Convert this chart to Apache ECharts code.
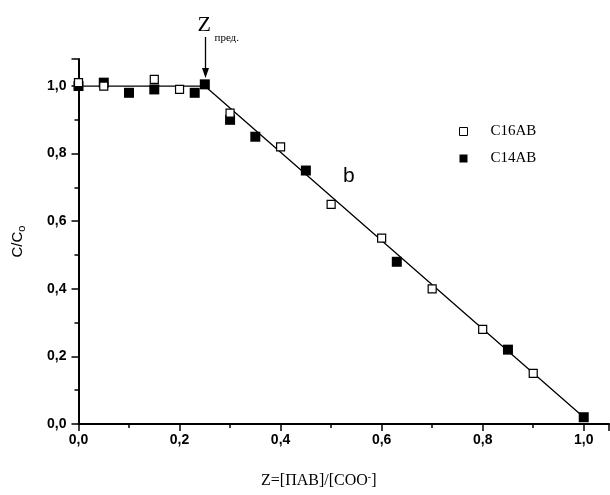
<!DOCTYPE html>
<html><head><meta charset="utf-8">
<script src="https://cdn.jsdelivr.net/npm/echarts@6/dist/echarts.min.js"></script>
<style>html,body{margin:0;padding:0;background:#fff}#c{width:610px;height:495px}</style>
</head><body><div id="c"></div>
<script>
// C16AB (open squares)
const c16x = [0, 0.05, 0.15, 0.2, 0.3, 0.4, 0.5, 0.6, 0.7, 0.8, 0.9];
const c16y = [1.01, 1.0, 1.02, 0.99, 0.92, 0.82, 0.65, 0.55, 0.40, 0.28, 0.15];
// C14AB (filled squares)
const c14x = [0, 0.05, 0.1, 0.15, 0.23, 0.25, 0.3, 0.35, 0.45, 0.63, 0.85, 1.0];
const c14y = [1.0, 1.01, 0.98, 0.99, 0.98, 1.005, 0.90, 0.85, 0.75, 0.48, 0.22, 0.02];
// fitted line
const fitX = [0, 0.25, 1.0];
const fitY = [1.0, 1.0, 0.02];
const zLimit = 0.25;

const pair = (xs, ys) => xs.map((x, i) => [x, ys[i]]);
const fmt = v => (Math.round(v * 10) / 10).toFixed(1).replace('.', ',');

const chart = echarts.init(document.getElementById('c'));
const axisCommon = {
  type: 'value', min: 0, interval: 0.2,
  splitLine: { show: false },
  axisLine: { show: true, onZero: false, lineStyle: { color: '#000', width: 2 } },
  axisTick: { show: true, inside: false, length: 7, lineStyle: { color: '#000', width: 1.5 } },
  minorTick: { show: true, splitNumber: 2, length: 4, lineStyle: { color: '#000', width: 1.5 } },
  axisLabel: { color: '#000', fontFamily: 'Liberation Sans', fontWeight: 'bold', fontSize: 14, formatter: fmt }
};
chart.setOption({
  animation: false,
  grid: { left: 78, top: 59, width: 531, height: 367 },
  xAxis: Object.assign({}, axisCommon, {
    max: 1.05,
    axisLabel: Object.assign({}, axisCommon.axisLabel, { margin: 9, showMaxLabel: false }),
    name: '{t|Z=[ПАВ]/[COO}{s|-}{t|]}',
    nameLocation: 'middle', nameGap: 48,
    nameTextStyle: {
      padding: [0, 50, 0, 0],
      rich: {
        t: { fontFamily: 'Liberation Serif', fontSize: 16, color: '#000', lineHeight: 18 },
        s: { fontFamily: 'Liberation Serif', fontSize: 10, color: '#000', verticalAlign: 'top', lineHeight: 18, padding: [0, 0, 8, 0] }
      }
    }
  }),
  yAxis: Object.assign({}, axisCommon, {
    max: 1.08,
    axisLabel: Object.assign({}, axisCommon.axisLabel, { margin: 12, showMaxLabel: false }),
    name: '{t|C/C}{s|o}',
    nameLocation: 'middle', nameGap: 52, nameRotate: 90,
    nameTextStyle: {
      rich: {
        t: { fontFamily: 'Liberation Sans', fontSize: 15, color: '#000', lineHeight: 18 },
        s: { fontFamily: 'Liberation Sans', fontSize: 11, color: '#000', lineHeight: 18, padding: [8, 0, 0, 0] }
      }
    }
  }),
  legend: {
    orient: 'vertical', left: 454, top: 119, itemGap: 12,
    itemWidth: 8, itemHeight: 8,
    textStyle: { fontFamily: 'Liberation Serif', fontSize: 15, color: '#000', padding: [0, 0, 0, 18] },
    data: [
      { name: 'C16AB', itemStyle: { color: '#fff', borderColor: '#000', borderWidth: 1 } },
      { name: 'C14AB', itemStyle: { color: '#000', borderWidth: 0 } }
    ]
  },
  series: [
    { type: 'line', name: 'fit', data: pair(fitX, fitY), symbol: 'none', lineStyle: { color: '#000', width: 1.3 }, z: 1 },
    { type: 'scatter', name: 'C14AB', data: pair(c14x, c14y), symbol: 'rect', symbolSize: 10,
      itemStyle: { color: '#000', borderColor: '#000', borderWidth: 0, opacity: 1 }, z: 2 },
    { type: 'scatter', name: 'C16AB', data: pair(c16x, c16y), symbol: 'rect', symbolSize: 8,
      itemStyle: { color: '#fff', borderColor: '#000', borderWidth: 1.2, opacity: 1 }, z: 3 }
  ]
});

const tip = chart.convertToPixel({ gridIndex: 0 }, [zLimit, 1.0]);
const ax = Math.round(tip[0]) + 0.5;
const ty = tip[1] - 8;
chart.setOption({
  graphic: [
    { type: 'line', shape: { x1: ax, y1: 37, x2: ax, y2: ty - 8 }, style: { stroke: '#000', lineWidth: 1.3 } },
    { type: 'polygon', shape: { points: [[ax - 3.5, ty - 10], [ax + 3.5, ty - 10], [ax, ty]] }, style: { fill: '#000' } },
    { type: 'text', left: ax - 8, top: 14, style: { text: 'Z', font: '22px "Liberation Serif"', fill: '#000' } },
    { type: 'text', left: ax + 9, top: 33, style: { text: 'пред.', font: '11px "Liberation Serif"', fill: '#000' } },
    { type: 'text', left: 343, top: 166, style: { text: 'b', font: '21px "Liberation Sans"', fill: '#000' } }
  ]
});
</script></body></html>
